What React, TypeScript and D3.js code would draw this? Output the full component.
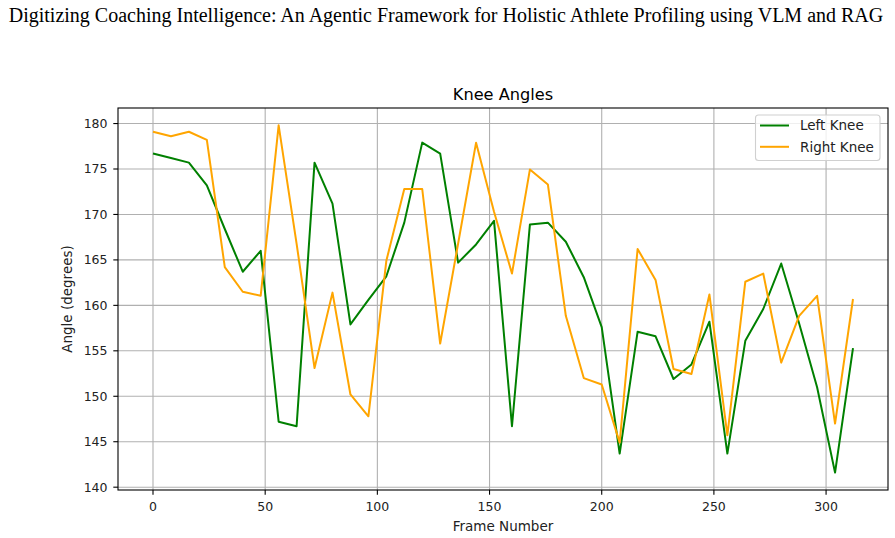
import React from "react";
import * as d3 from "d3";

// frame index sampled every 8 frames
const frames = [
  0, 8, 16, 24, 32, 40, 48, 56, 64, 72, 80, 88, 96, 104, 112, 120, 128, 136,
  144, 152, 160, 168, 176, 184, 192, 200, 208, 216, 224, 232, 240, 248, 256,
  264, 272, 280, 288, 296, 304, 312,
];

const leftKnee = [
  176.7, 176.2, 175.7, 173.2, 168.4, 163.7, 166.0, 147.2, 146.7, 175.7, 171.2,
  157.9, 160.6, 163.2, 169.1, 177.9, 176.7, 164.7, 166.7, 169.3, 146.7, 168.9,
  169.1, 167.0, 163.1, 157.6, 143.7, 157.1, 156.6, 151.9, 153.5, 158.2, 143.7,
  156.1, 159.6, 164.6, 158.0, 151.0, 141.6, 155.3,
];

const rightKnee = [
  179.1, 178.6, 179.1, 178.2, 164.2, 161.5, 161.05, 179.8, 166.8, 153.1, 161.4,
  150.2, 147.8, 164.9, 172.8, 172.8, 155.8, 166.8, 177.9, 170.3, 163.5, 174.95,
  173.3, 158.85, 152.0, 151.3, 144.9, 166.2, 162.8, 153.0, 152.45, 161.2, 145.7,
  162.6, 163.5, 153.7, 158.85, 161.05, 147.0, 160.7,
];

const xTicks = [0, 50, 100, 150, 200, 250, 300];
const yTicks = [140, 145, 150, 155, 160, 165, 170, 175, 180];

const series = [
  { name: "Left Knee", values: leftKnee, color: "green" },
  { name: "Right Knee", values: rightKnee, color: "orange" },
];

const W = 895;
const H = 538;
const plot = { left: 118, right: 888, top: 108, bottom: 490 };
const SANS = "DejaVu Sans, sans-serif";

// pad the extent by 5% on each side, like matplotlib's autoscale
function padded(ext: [number, number]): [number, number] {
  const m = (ext[1] - ext[0]) * 0.05;
  return [ext[0] - m, ext[1] + m];
}

export default function App() {
  const x = d3
    .scaleLinear()
    .domain(padded(d3.extent(frames) as [number, number]))
    .range([plot.left, plot.right]);
  const y = d3
    .scaleLinear()
    .domain(padded(d3.extent([...leftKnee, ...rightKnee]) as [number, number]))
    .range([plot.bottom, plot.top]);

  const line = (vals: number[]) =>
    d3
      .line<number>()
      .x((_, i) => x(frames[i]))
      .y((d) => y(d))(vals) || "";

  const cx = (plot.left + plot.right) / 2;
  const cy = (plot.top + plot.bottom) / 2;

  return (
    <svg
      width={W}
      height={H}
      style={{ position: "absolute", left: 0, top: 0, background: "#fff" }}
    >
      <text
        x={446}
        y={22}
        textAnchor="middle"
        fontFamily="Liberation Serif, serif"
        fontSize={20}
        fill="#000"
      >
        Digitizing Coaching Intelligence: An Agentic Framework for Holistic Athlete Profiling using VLM and RAG
      </text>

      {/* grid */}
      <g stroke="#b0b0b0" strokeWidth={1.1}>
        {xTicks.map((t) => (
          <line key={"gx" + t} x1={x(t)} x2={x(t)} y1={plot.top} y2={plot.bottom} />
        ))}
        {yTicks.map((t) => (
          <line key={"gy" + t} x1={plot.left} x2={plot.right} y1={y(t)} y2={y(t)} />
        ))}
      </g>

      {series.map((s) => (
        <path
          key={s.name}
          d={line(s.values)}
          fill="none"
          stroke={s.color}
          strokeWidth={2}
          strokeLinejoin="round"
        />
      ))}

      <rect
        x={plot.left}
        y={plot.top}
        width={plot.right - plot.left}
        height={plot.bottom - plot.top}
        fill="none"
        stroke="#000"
        strokeWidth={1.1}
      />

      {/* x axis */}
      <g fontFamily={SANS} fontSize={12.5} fill="#222">
        {xTicks.map((t) => (
          <g key={"xt" + t}>
            <line x1={x(t)} x2={x(t)} y1={plot.bottom} y2={plot.bottom + 4.7} stroke="#000" strokeWidth={1.1} />
            <text x={x(t)} y={plot.bottom + 20.5} textAnchor="middle">
              {t}
            </text>
          </g>
        ))}
        {yTicks.map((t) => (
          <g key={"yt" + t}>
            <line x1={plot.left - 4.7} x2={plot.left} y1={y(t)} y2={y(t)} stroke="#000" strokeWidth={1.1} />
            <text x={plot.left - 10.5} y={y(t)} dy="0.35em" textAnchor="end">
              {t}
            </text>
          </g>
        ))}
      </g>

      <text x={cx} y={530.5} textAnchor="middle" fontFamily={SANS} fontSize={13.5} fill="#222">
        Frame Number
      </text>
      <text
        transform={`translate(72,${cy}) rotate(-90)`}
        textAnchor="middle"
        fontFamily={SANS}
        fontSize={13.5}
        fill="#222"
      >
        Angle (degrees)
      </text>
      <text x={cx} y={100} textAnchor="middle" fontFamily={SANS} fontSize={16.2} fill="#000">
        Knee Angles
      </text>

      {/* legend */}
      <g fontFamily={SANS} fontSize={13.5} fill="#222">
        <rect x={755.5} y={115} width={124.5} height={45.5} rx={3} fill="#fff" fillOpacity={0.8} stroke="#d0d0d0" strokeWidth={1.1} />
        {series.map((s, i) => (
          <g key={"lg" + s.name} transform={`translate(0,${125.5 + i * 21.3})`}>
            <line x1={760} x2={789} y1={0} y2={0} stroke={s.color} strokeWidth={2} />
            <text x={800} y={0} dy="0.35em">
              {s.name}
            </text>
          </g>
        ))}
      </g>
    </svg>
  );
}
